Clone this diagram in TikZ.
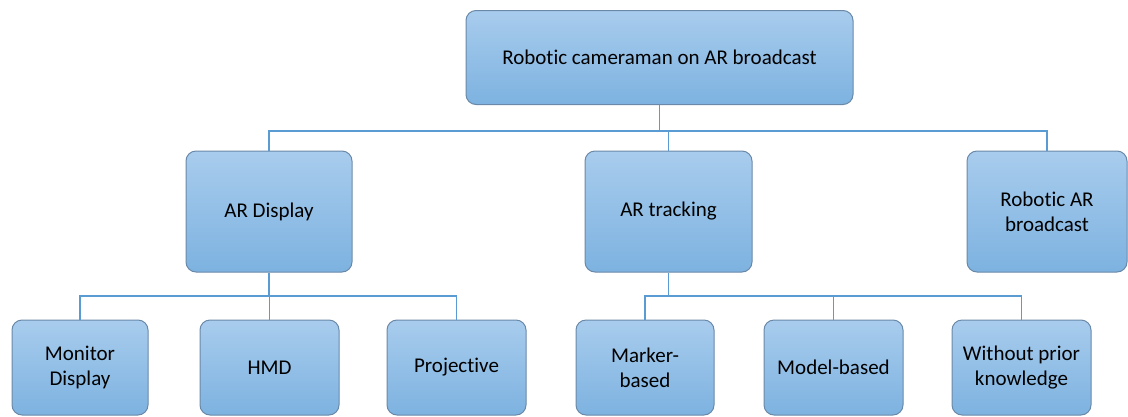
\documentclass[tikz,border=0pt]{standalone}
\usepackage{fontspec}
\setmainfont{Carlito}[Ligatures=NoCommon]
\usepackage{xcolor}
\usepackage{tikz}
\definecolor{boxtop}{HTML}{A8CCED}
\definecolor{boxbot}{HTML}{7DB2E0}
\definecolor{boxline}{HTML}{6A89A8}
\definecolor{linkblue}{HTML}{5B9BD3}
\tikzset{
  box/.style={draw=boxline, line width=1pt, rounded corners=10pt,
    top color=boxtop, bottom color=boxbot, align=center,
    font=\fontsize{21}{25}\selectfont, text=black, inner sep=2pt},
  link/.style={draw=linkblue, line width=1.5pt}
}

\begin{document}
\begin{tikzpicture}[x=1pt, y=-1pt]
    \useasboundingbox (0,0) rectangle (1128,416);

    % Root
    \node[box, minimum width=387pt, minimum height=94pt] (root) at (659.5,57.5) {Robotic cameraman on AR broadcast};

    % Second level
    \node[box, minimum width=166pt, minimum height=121pt] (disp) at (269,211.5) {AR Display};
    \node[box, minimum width=167pt, minimum height=121pt] (track) at (668.5,211.5) {AR tracking};
    \node[box, minimum width=160pt, minimum height=121pt] (robar) at (1047,211.5) {Robotic AR\\broadcast};

    % Third level
    \node[box, minimum width=136pt, minimum height=95pt] (mon) at (80,367.5) {Monitor\\Display};
    \node[box, minimum width=139pt, minimum height=95pt] (hmd) at (269.5,367.5) {HMD};
    \node[box, minimum width=139pt, minimum height=95pt] (proj) at (456.5,367.5) {Projective};
    \node[box, minimum width=138pt, minimum height=95pt] (mark) at (645,367.5) {Marker-\\based};
    \node[box, minimum width=139pt, minimum height=95pt] (model) at (833.5,367.5) {Model-based};
    \node[box, minimum width=139pt, minimum height=95pt] (noprior) at (1021.5,367.5) {Without prior\\knowledge};

    % Bus levels
    \coordinate (bus1) at (0,131);
    \coordinate (bus2) at (0,296);

    % Connectors
    \draw[link] (root.south) -- (root.south |- bus1) -| (disp.north);
    \draw[link] (root.south |- bus1) -| (track.north);
    \draw[link] (root.south |- bus1) -| (robar.north);

    \draw[link] (disp.south) -- (disp.south |- bus2) -| (mon.north);
    \draw[link] (disp.south |- bus2) -| (hmd.north);
    \draw[link] (disp.south |- bus2) -| (proj.north);

    \draw[link] (track.south) -- (track.south |- bus2) -| (mark.north);
    \draw[link] (track.south |- bus2) -| (model.north);
    \draw[link] (track.south |- bus2) -| (noprior.north);
  \end{tikzpicture}
\end{document}
